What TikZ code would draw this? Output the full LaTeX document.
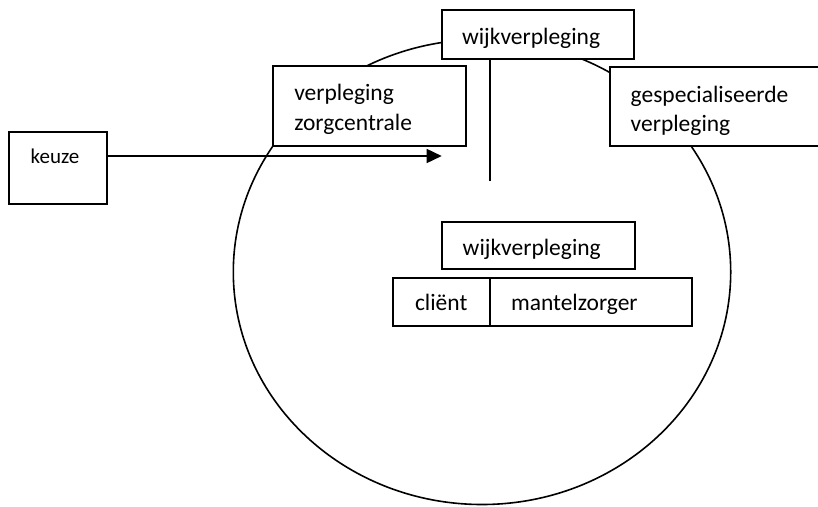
\documentclass[tikz,border=0pt]{standalone}
\usepackage{fontspec}
\setmainfont{Carlito}
\usetikzlibrary{arrows.meta}
\tikzset{
  boxnode/.style={draw=black, fill=white, line width=1.8pt, rectangle, inner sep=0pt, outer sep=0pt, anchor=north west},
  txt/.style={inner sep=0pt, outer sep=0pt, anchor=base west, font=\fontsize{23.5}{28}\selectfont},
  smalltxt/.style={txt, font=\fontsize{21}{25}\selectfont},
  ring/.style={draw=black, line width=1.6pt},
  conn/.style={draw=black, line width=1.6pt},
}
\begin{document}
\begin{tikzpicture}[x=1pt,y=-1pt]
\useasboundingbox (0,0) rectangle (818,506);
% circle
\draw[ring] (482,272) ellipse [x radius=248.7, y radius=232.5];
% boxes
\node[boxnode, minimum width=97.4pt, minimum height=72.3pt] (keuze) at (9.3,131.7) {};
\node[boxnode, minimum width=193pt, minimum height=79.7pt] (zorg) at (273.3,66) {};
\node[boxnode, minimum width=192.6pt, minimum height=49pt] (top) at (441.7,10) {};
\node[boxnode, minimum width=212pt, minimum height=79.3pt] (spec) at (610,66.7) {};
\node[boxnode, minimum width=193.3pt, minimum height=47.6pt] (inner) at (441.7,221.7) {};
\node[boxnode, minimum width=96.7pt, minimum height=48.3pt] (client) at (393.3,277.7) {};
\node[boxnode, minimum width=201.7pt, minimum height=48.3pt] (mantel) at (490,277.7) {};
% texts
\node[txt] (ttop) at (462,44.3) {wijkverpleging};
\node[txt] (tzorg1) at (294.3,100.7) {verpleging};
\node[txt] (tzorg2) at (294.3,130) {zorgcentrale};
\node[txt] (tspec1) at (630.7,102) {gespecialiseerde};
\node[txt] (tspec2) at (630.7,131) {verpleging};
\node[smalltxt] (tkeuze) at (30.7,163.3) {keuze};
\node[txt] (tinner) at (462.7,255) {wijkverpleging};
\node[txt] (tclient) at (415,310) {cliënt};
\node[txt] (tmantel) at (511,310) {mantelzorger};
% connectors
\coordinate (tip) at (441.7,156);
\coordinate (vend) at (490,181);
\draw[conn, -{Triangle[length=15pt,width=14pt]}] (keuze.east |- tip) -- (tip);
\draw[conn] (top.south -| vend) -- (vend);
\end{tikzpicture}
\end{document}
